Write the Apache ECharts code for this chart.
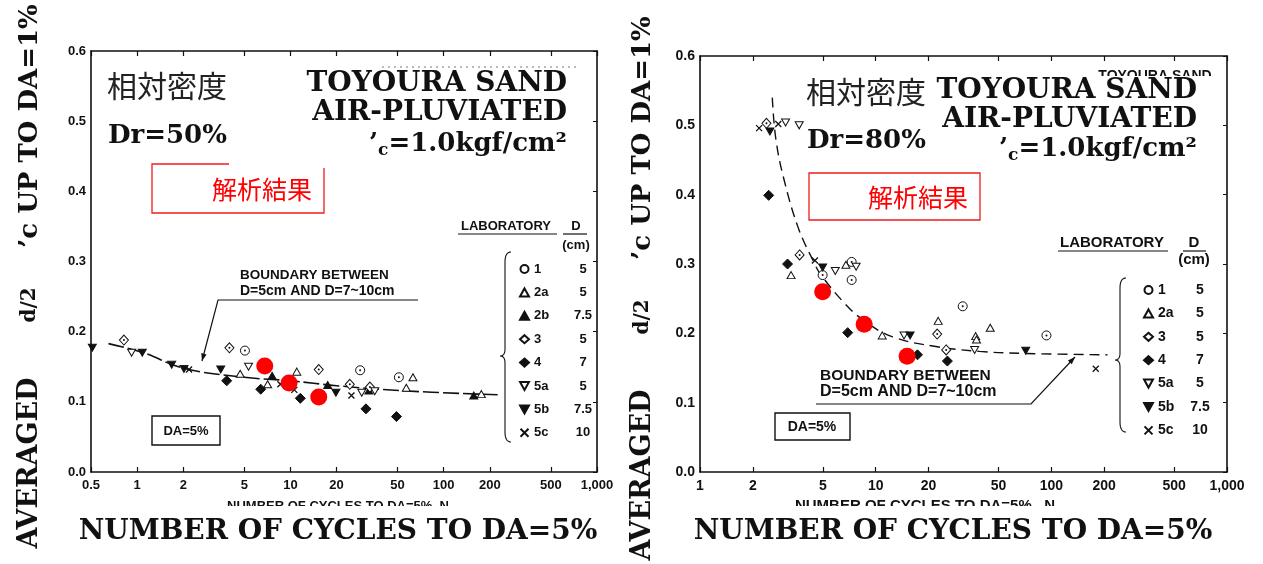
<!DOCTYPE html>
<html>
<head>
<meta charset="utf-8">
<title>TOYOURA SAND</title>
<script src="https://cdn.jsdelivr.net/npm/echarts@6.0.0/dist/echarts.min.js"></script>
<style>
html,body{margin:0;padding:0;background:#fff;}
#main{width:1263px;height:564px;}
</style>
</head>
<body>
<div id="main"></div>
<script>
// 试验室 / 试样直径 D(cm)
var labNames = ['1','2a','2b','3','4','5a','5b','5c'];
var labDiameter = ['5','5','7.5','5','7','5','7.5','10'];

var xTicks50 = [0.5,1,2,5,10,20,50,100,200,500,1000];
var xTicks80 = [1,2,5,10,20,50,100,200,500,1000];

// Dr=50%  [N, 应力比]
var dr50_1  = [[5.05,0.173],[28.5,0.145],[51,0.135]];
var dr50_2a = [[4.7,0.140],[7.1,0.125],[11,0.143],[57,0.120],[63,0.135],[176,0.111]];
var dr50_2b = [[7.6,0.137],[17.5,0.124],[32.5,0.116],[157,0.109]];
var dr50_3  = [[0.82,0.188],[4.0,0.177],[15.3,0.146],[24.4,0.125],[33,0.121]];
var dr50_4  = [[3.84,0.130],[6.4,0.118],[11.6,0.105],[31.1,0.090],[49.2,0.079]];
var dr50_5a = [[0.92,0.170],[5.33,0.150],[29.2,0.113],[35.5,0.115]];
var dr50_5b = [[0.51,0.177],[1.08,0.170],[1.68,0.153],[2.02,0.147],[3.51,0.146],[19.8,0.113]];
var dr50_5c = [[2.18,0.146],[8.6,0.125],[10.6,0.117],[25,0.109]];
var dr50_result = [[6.8,0.151],[9.8,0.127],[15.3,0.107]];
var dr50_boundaryN = [0.65,1.1,2,5,10,20,52,225];
var dr50_boundaryV = [0.183,0.170,0.148,0.135,0.130,0.123,0.116,0.110];

// Dr=80%
var dr80_1  = [[4.99,0.284],[7.3,0.303],[7.3,0.277],[31.3,0.239],[93.8,0.197]];
var dr80_2a = [[3.3,0.284],[6.77,0.299],[10.9,0.197],[22.7,0.218],[37.1,0.196],[37.5,0.191],[44.9,0.208]];
var dr80_3  = [[2.39,0.503],[3.69,0.313],[22.4,0.199],[25.2,0.176]];
var dr80_4  = [[2.46,0.399],[3.15,0.300],[6.93,0.201],[17.3,0.169],[25.6,0.160]];
var dr80_5a = [[3.07,0.504],[3.67,0.500],[5.89,0.290],[7.74,0.296],[14.5,0.197],[36.6,0.176]];
var dr80_5b = [[2.5,0.491],[4.99,0.295],[15.7,0.197],[71.5,0.175]];
var dr80_5c = [[2.17,0.496],[2.79,0.502],[4.51,0.305],[179,0.149]];
var dr80_result = [[4.99,0.260],[8.6,0.213],[15.1,0.167]];
var dr80_boundaryN = [2.58,2.7,3.0,3.64,4.5,4.8,6.4,8.5,12.5,22,39,70,209];
var dr80_boundaryV = [0.540,0.481,0.423,0.351,0.300,0.287,0.248,0.219,0.195,0.181,0.174,0.171,0.169];

var INK = '#111';
var downTri = 'path://M0,0L10,0L5,9Z';
var symbolOf = {'1':'circle','2a':'triangle','2b':'triangle','3':'diamond','4':'diamond','5a':downTri,'5b':downTri,'5c':'path://M0,0L10,10M10,0L0,10'};
var sizeOf = {'1':9,'2a':[8,7],'2b':[8,7],'3':[9,10],'4':[10,10],'5a':[8,7],'5b':[8,7],'5c':6};
var openLab = {'1':true,'2a':true,'3':true,'5a':true,'5c':true};
var dotLab = {'1':true,'3':true};

function labSeries(name, data, idx){
    var open = openLab[name];
    var list = [{
        name: name,
        type: 'scatter',
        xAxisIndex: idx, yAxisIndex: idx,
        data: data,
        symbol: symbolOf[name],
        symbolSize: sizeOf[name],
        itemStyle: {
            color: open ? '#fff' : INK,
            borderColor: INK,
            borderWidth: name === '5c' ? 1.3 : 1,
            opacity: 1
        },
        silent: true,
        z: 3
    }];
    if(dotLab[name]){
        list.push({
            name: name + ' dot', type: 'scatter',
            xAxisIndex: idx, yAxisIndex: idx,
            data: data, symbol: 'circle', symbolSize: 2,
            itemStyle: {color: INK, opacity: 1}, silent: true, z: 4
        });
    }
    return list;
}

function zip(a, b){
    var out = [];
    for(var i=0;i<a.length;i++){ out.push([a[i], b[i]]); }
    return out;
}

function xFmt(v){
    if(Math.abs(v-1000) < 1){ return '1,000'; }
    return String(+Number(v).toPrecision(3));
}

function xAxisCfg(idx, min, ticks, pos, fs){
    return {
        type: 'log', logBase: 10, gridIndex: idx, position: pos,
        min: min, max: 1000,
        axisLine: {show: true, onZero: false, lineStyle: {color: INK, width: 1.6}},
        axisTick: {show: true, inside: true, length: 5, customValues: ticks, lineStyle: {color: INK, width: 1.2}},
        axisLabel: {show: pos === 'bottom', customValues: ticks, formatter: xFmt, margin: 7,
            color: INK, fontSize: fs, fontWeight: 'bold', fontFamily: 'Liberation Sans'},
        splitLine: {show: false}
    };
}

function yAxisCfg(idx, pos, fs){
    return {
        type: 'value', gridIndex: idx, position: pos,
        min: 0, max: 0.6, interval: 0.1,
        axisLine: {show: true, lineStyle: {color: INK, width: 1.6}},
        axisTick: {show: pos === 'right', inside: true, length: 4, lineStyle: {color: INK}},
        axisLabel: {show: pos === 'left', margin: 5, formatter: function(v){ return v.toFixed(1); },
            color: INK, fontSize: fs, fontWeight: 'bold', fontFamily: 'Liberation Sans'},
        splitLine: {show: false}
    };
}

function legendCfg(left, top, names, fs, aw){
    return {
        orient: 'vertical', left: left, top: top,
        data: names, selectedMode: false,
        itemWidth: 9, itemHeight: 8, itemGap: 23.4 - 14,
        formatter: function(name){
            return '{a|' + name + '}{b|' + labDiameter[labNames.indexOf(name)] + '}';
        },
        textStyle: {
            color: INK, fontSize: fs, fontWeight: 'bold', fontFamily: 'Liberation Sans', lineHeight: 14,
            rich: {
                a: {width: aw, fontSize: fs, fontWeight: 'bold', fontFamily: 'Liberation Sans', color: INK, lineHeight: 14},
                b: {width: 28, align: 'center', fontSize: fs, fontWeight: 'bold', fontFamily: 'Liberation Sans', color: INK, lineHeight: 14}
            }
        }
    };
}

var series = [];
var dr50 = {'1':dr50_1,'2a':dr50_2a,'2b':dr50_2b,'3':dr50_3,'4':dr50_4,'5a':dr50_5a,'5b':dr50_5b,'5c':dr50_5c};
var dr80 = {'1':dr80_1,'2a':dr80_2a,'3':dr80_3,'4':dr80_4,'5a':dr80_5a,'5b':dr80_5b,'5c':dr80_5c};
labNames.forEach(function(n){
    series = series.concat(labSeries(n, dr50[n], 0));
    if(dr80[n]){ series = series.concat(labSeries(n, dr80[n], 1)); }
});
// 边界线
series.push({
    name: 'boundary50', type: 'line', xAxisIndex: 0, yAxisIndex: 0,
    data: zip(dr50_boundaryN, dr50_boundaryV), showSymbol: false, smooth: 0.4, silent: true,
    lineStyle: {color: INK, width: 1.6, type: [16, 4]}, z: 2
});
series.push({
    name: 'boundary80', type: 'line', xAxisIndex: 1, yAxisIndex: 1,
    data: zip(dr80_boundaryN, dr80_boundaryV), showSymbol: false, smooth: 0.4, silent: true,
    lineStyle: {color: INK, width: 1.4, type: [10, 6]}, z: 2
});
// 解析結果
series.push({
    name: '解析結果', type: 'scatter', xAxisIndex: 0, yAxisIndex: 0,
    data: dr50_result, symbol: 'circle', symbolSize: 17, itemStyle: {color: '#ff0000', opacity: 1}, z: 6, silent: true
});
series.push({
    name: '解析結果', type: 'scatter', xAxisIndex: 1, yAxisIndex: 1,
    data: dr80_result, symbol: 'circle', symbolSize: 17, itemStyle: {color: '#ff0000', opacity: 1}, z: 6, silent: true
});
// 右/上轴只用于画框
series.push({name: 'frame50', type: 'line', xAxisIndex: 2, yAxisIndex: 2, data: [], silent: true});
series.push({name: 'frame80', type: 'line', xAxisIndex: 3, yAxisIndex: 3, data: [], silent: true});

// 注释文字与框线
var g = [];
function txt(x, y, text, font, fill, align, extra){
    var el = {type: 'text', x: x, y: y, silent: true, style: {text: text, font: font, fill: fill || INK,
        align: align || 'left', verticalAlign: 'middle'}};
    if(extra){ for(var k in extra){ el[k] = extra[k]; } }
    g.push(el);
}
function seg(points, w, color, dash){
    g.push({type: 'polyline', silent: true, shape: {points: points},
        style: {stroke: color || INK, lineWidth: w || 1.3, fill: null, lineDash: dash || null}});
}
function box(x, y, w, h, color, lw){
    g.push({type: 'rect', silent: true, shape: {x: x, y: y, width: w, height: h},
        style: {stroke: color || INK, lineWidth: lw || 1.3, fill: null}});
}
function arrowHead(x1, y1, x2, y2){
    var a = Math.atan2(y2 - y1, x2 - x1), L = 8, s = 0.35;
    g.push({type: 'polygon', silent: true, shape: {points: [[x2, y2],
        [x2 - L*Math.cos(a - s), y2 - L*Math.sin(a - s)],
        [x2 - L*Math.cos(a + s), y2 - L*Math.sin(a + s)]]}, style: {fill: INK}});
}
function quad(pts, p0, p1, p2){
    for(var t=0;t<=1.001;t+=0.125){
        var u = 1 - t;
        pts.push([u*u*p0[0] + 2*u*t*p1[0] + t*t*p2[0], u*u*p0[1] + 2*u*t*p1[1] + t*t*p2[1]]);
    }
}
function brace(x, top, mid, bottom){
    var pts = [];
    quad(pts, [x+6, top], [x, top], [x, top+10]);
    quad(pts, [x, mid-7], [x, mid], [x-5, mid]);
    quad(pts, [x-5, mid], [x, mid], [x, mid+7]);
    quad(pts, [x, bottom-10], [x, bottom], [x+6, bottom]);
    seg(pts, 1.1);
}

var serifB = 'bold 28px "DejaVu Serif"';
var serifB26 = 'bold 26px "DejaVu Serif"';
var cjk = '30px "Noto Sans CJK JP"';
var sansB13 = 'bold 13px "Liberation Sans"';
var sansB15 = 'bold 15px "Liberation Sans"';
var kgfRich = {
    q: {font: serifB26, fill: INK, lineHeight: 30},
    s: {font: 'bold 17px "DejaVu Serif"', fill: INK, lineHeight: 30, verticalAlign: 'bottom'},
    m: {font: serifB26, fill: INK, lineHeight: 30}
};

// 被截断的原轴标题
txt(338, 506, 'NUMBER OF CYCLES TO DA=5%, N', sansB13, INK, 'center');
txt(925, 506, 'NUMBER OF CYCLES TO DA=5%   N', sansB15, INK, 'center');
g.push({type: 'rect', silent: true, shape: {x: 200, y: 506, width: 280, height: 10}, style: {fill: '#fff'}});
g.push({type: 'rect', silent: true, shape: {x: 770, y: 506, width: 320, height: 10}, style: {fill: '#fff'}});

// 外侧坐标轴标题
[[30, 0], [643, 12]].forEach(function(p){
    var rot = {rotation: Math.PI / 2};
    txt(p[0], 463 + p[1], 'AVERAGED', 'bold 27px "DejaVu Serif"', INK, 'center', rot);
    txt(p[0], 305 + p[1], 'd/2', 'bold 20px "DejaVu Serif"', INK, 'center', rot);
    txt(p[0], 126 + p[1], '\u2019c UP TO DA=1%', serifB26, INK, 'center', rot);
});
txt(338, 532, 'NUMBER OF CYCLES TO DA=5%', serifB, INK, 'center');
txt(953, 532, 'NUMBER OF CYCLES TO DA=5%', serifB, INK, 'center');

// 左图
txt(107, 86, '相対密度', cjk, '#222');
txt(108, 136, 'Dr=50%', serifB26);
txt(567, 84, 'TOYOURA SAND', serifB, INK, 'right');
txt(567, 113, 'AIR-PLUVIATED', serifB, INK, 'right');
g.push({type: 'text', x: 567, y: 144, silent: true, style: {
    text: '{q|\u2019}{s|c}{m|=1.0kgf/cm\u00b2}', align: 'right', verticalAlign: 'middle', rich: kgfRich}});
seg([[382, 67], [578, 67]], 1, '#777', [2, 4]);
seg([[229, 164], [152, 164], [152, 213], [324, 213], [324, 168]], 1.3, '#ee1c1c');
txt(262, 189, '解析結果', '25px "Noto Sans CJK JP"', '#ff0000', 'center');
txt(461, 226, 'LABORATORY', sansB13);
txt(576, 226, 'D', sansB13, INK, 'center');
txt(576, 245, '(cm)', sansB13, INK, 'center');
seg([[458, 234], [557, 234]], 1.2);
seg([[563, 234], [587, 234]], 1.2);
brace(505, 252, 356, 442);
txt(240, 275, 'BOUNDARY BETWEEN', 'bold 13.5px "Liberation Sans"');
txt(240, 291, 'D=5cm AND D=7~10cm', 'bold 14px "Liberation Sans"');
seg([[418, 300], [218, 300], [202, 361]], 1.2);
arrowHead(218, 300, 202, 361);
box(152, 416, 68, 29, INK, 1.4);
txt(186, 431, 'DA=5%', sansB13, INK, 'center');

// 右图
txt(806, 92, '相対密度', cjk, '#222');
txt(807, 141, 'Dr=80%', serifB26);
txt(1155, 76, 'TOYOURA SAND', 'bold 14px "Liberation Sans"', INK, 'center');
g.push({type: 'rect', silent: true, shape: {x: 1080, y: 76, width: 145, height: 10}, style: {fill: '#fff'}});
txt(1197, 91, 'TOYOURA SAND', serifB, INK, 'right');
txt(1197, 120, 'AIR-PLUVIATED', serifB, INK, 'right');
g.push({type: 'text', x: 1197, y: 149, silent: true, style: {
    text: '{q|\u2019}{s|c}{m|=1.0kgf/cm\u00b2}', align: 'right', verticalAlign: 'middle', rich: kgfRich}});
box(809, 173, 171, 47, '#ee1c1c', 1.3);
txt(918, 197, '解析結果', '25px "Noto Sans CJK JP"', '#ff0000', 'center');
txt(1060, 243, 'LABORATORY', sansB15);
txt(1194, 243, 'D', sansB15, INK, 'center');
txt(1194, 260, '(cm)', sansB15, INK, 'center');
seg([[1058, 251], [1168, 251]], 1.2);
seg([[1183, 251], [1206, 251]], 1.2);
brace(1120, 278, 360, 432);
txt(820, 376, 'BOUNDARY BETWEEN', 'bold 15.5px "Liberation Sans"');
txt(820, 392, 'D=5cm AND D=7~10cm', 'bold 16px "Liberation Sans"');
seg([[816, 404], [1031, 404], [1075, 357]], 1.2);
arrowHead(1031, 404, 1075, 357);
box(775, 413, 75, 27, INK, 1.4);
txt(812, 427, 'DA=5%', 'bold 14px "Liberation Sans"', INK, 'center');

var chart = echarts.init(document.getElementById('main'), null, {renderer: 'canvas'});
chart.setOption({
    backgroundColor: '#fff',
    animation: false,
    grid: [
        {left: 91, top: 51, width: 506, height: 421},
        {left: 700, top: 56, width: 527, height: 416}
    ],
    xAxis: [
        xAxisCfg(0, 0.5, xTicks50, 'bottom', 13),
        xAxisCfg(1, 1, xTicks80, 'bottom', 14),
        xAxisCfg(0, 0.5, xTicks50, 'top', 13),
        xAxisCfg(1, 1, xTicks80, 'top', 14)
    ],
    yAxis: [
        yAxisCfg(0, 'left', 13),
        yAxisCfg(1, 'left', 14),
        yAxisCfg(0, 'right', 13),
        yAxisCfg(1, 'right', 14)
    ],
    legend: [
        legendCfg(514, 257, labNames, 13, 35),
        legendCfg(1138, 278, labNames.filter(function(n){ return n !== '2b'; }), 14, 28)
    ],
    series: series,
    graphic: {elements: g}
});
</script>
</body>
</html>
